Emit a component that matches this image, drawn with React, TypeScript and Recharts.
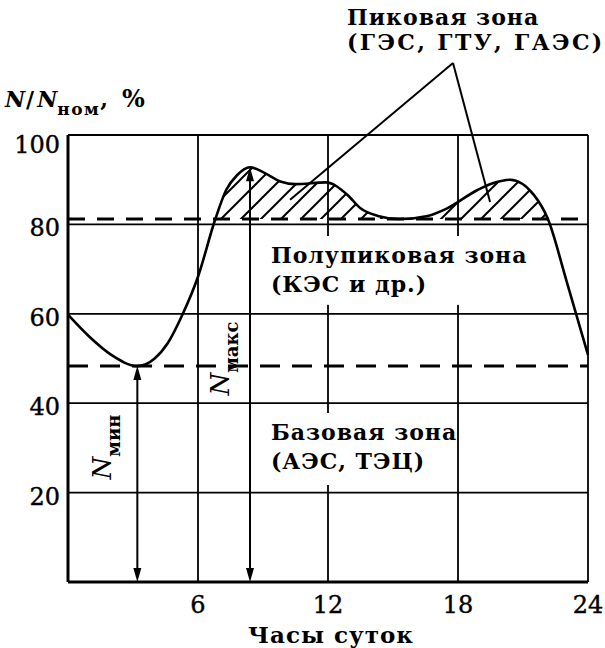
import React from 'react';
import {
  ComposedChart,
  Line,
  Area,
  XAxis,
  YAxis,
  CartesianGrid,
  ReferenceLine,
  ReferenceArea,
  ReferenceDot,
  Label,
} from 'recharts';

// daily load curve, N/Nном in % against hour of day
const hours = [0, 1, 2, 3.2, 4, 4.6, 5.3, 6, 6.8, 7.3, 7.8, 8.4, 9, 9.8, 10.5, 11.9, 12.9, 13.5, 14.3, 15.3, 16.6, 17.5, 18.9, 19.6, 20.4, 21.5, 22.15, 23, 24];
const load = [59.8, 54.8, 50.8, 48.3, 50.0, 53.4, 60, 68.3, 81.2, 87.7, 91.0, 92.8, 91.7, 89.6, 89.0, 89.4, 86.6, 83.6, 81.9, 81.2, 81.9, 83.6, 87.7, 89.2, 90.0, 86.6, 81.2, 67.5, 50.8];

const xTicks = [6, 12, 18, 24];
const yTicks = [20, 40, 60, 80, 100];

const semiPeakLevel = 81.2;
const baseLevel = Math.min(...load);
const minIdx = load.indexOf(baseLevel);
const maxIdx = load.indexOf(Math.max(...load));

const peakZone = ['Пиковая зона', '(ГЭС, ГТУ, ГАЭС)'];
const semiPeakZone = ['Полупиковая зона', '(КЭС и др.)'];
const baseZone = ['Базовая зона', '(АЭС, ТЭЦ)'];
const xTitle = 'Часы суток';

const data = hours.map((hour, i) => ({
  hour,
  load: load[i],
  peak: load[i] >= semiPeakLevel ? [semiPeakLevel, load[i]] : null,
}));

const FONT = '"DejaVu Serif", serif';
const INK = '#000';
const textStyle = { fontFamily: FONT, fontSize: 22, fontWeight: 700, letterSpacing: 1 };

function XTick({ x, y, payload }: any) {
  return (
    <text x={x} y={y + 31} textAnchor="middle" fontFamily={FONT} fontSize={24} fill={INK} stroke={INK} strokeWidth={0.4}>
      {payload.value}
    </text>
  );
}

function YTick({ x, y, payload }: any) {
  const dy = payload.value === 100 ? 18 : 12;
  return (
    <text x={x - 8} y={y + dy} textAnchor="end" fontFamily={FONT} fontSize={24} fill={INK} stroke={INK} strokeWidth={0.4}>
      {payload.value}
    </text>
  );
}

function YTitle({ viewBox }: any) {
  return (
    <text x={viewBox.x - 3} y={viewBox.y - 28} fontFamily={FONT} fontSize={22} fontWeight={700} fill={INK}>
      <tspan fontStyle="italic">N</tspan>
      <tspan dx={1}>/</tspan>
      <tspan dx={3} fontStyle="italic">N</tspan>
      <tspan fontSize={17} dy={8} letterSpacing={1.5}>ном</tspan>
      <tspan dy={-8}>,</tspan>
      <tspan dx={14} fontSize={24}>%</tspan>
    </text>
  );
}

function XTitle({ viewBox }: any) {
  return (
    <text
      x={viewBox.x + viewBox.width / 2 + 3}
      y={viewBox.y + 61}
      textAnchor="middle"
      style={{ ...textStyle, fontSize: 23 }}
      fill={INK}
    >
      {xTitle}
    </text>
  );
}

function ZoneBox({ x, y, width, height, lines }: any) {
  return (
    <g>
      <rect x={x} y={y} width={width} height={height} fill="#fff" />
      {lines.map((t: string, i: number) => (
        <text key={t} x={x + 9} y={y + 27 + i * 29} style={textStyle} fill={INK}>
          {t}
        </text>
      ))}
    </g>
  );
}

function PeakLabel({ cx, cy }: any) {
  return (
    <g>
      {peakZone.map((t, i) => (
        <text
          key={t}
          x={cx - 106}
          y={cy - 38 + i * 25}
          style={{ ...textStyle, letterSpacing: i === 0 ? 1 : 2.4 }}
          fill={INK}
        >
          {t}
        </text>
      ))}
    </g>
  );
}

function RotatedN({ cx, cy, sub }: any) {
  return (
    <text
      transform={`rotate(-90 ${cx} ${cy})`}
      x={cx}
      y={cy}
      textAnchor="middle"
      fontFamily={FONT}
      fill={INK}
    >
      <tspan fontStyle="italic" fontSize={26}>N</tspan>
      <tspan fontSize={18} fontWeight={700} dy={9}>{sub}</tspan>
    </text>
  );
}

function DoubleArrow({ x1, y1, y2 }: any) {
  const top = Math.min(y1, y2);
  const bottom = Math.max(y1, y2);
  const hw = 4;
  const hl = 14;
  return (
    <g>
      <line x1={x1} y1={top + 6} x2={x1} y2={bottom - 6} stroke={INK} strokeWidth={2} />
      <path d={`M${x1},${top} l${-hw},${hl} l${2 * hw},0 Z`} fill={INK} />
      <path d={`M${x1},${bottom} l${-hw},${-hl} l${2 * hw},0 Z`} fill={INK} />
    </g>
  );
}

export default function App() {
  return (
    <div style={{ position: 'absolute', left: 0, top: 0, background: '#fff' }}>
      <ComposedChart
        width={605}
        height={648}
        data={data}
        margin={{ top: 135, right: 17, bottom: 6, left: 8 }}
      >
        <defs>
          <pattern id="hatch" width="20" height="20" patternUnits="userSpaceOnUse">
            <path d="M-10,10 L10,-10 M0,20 L20,0 M10,30 L30,10" stroke={INK} strokeWidth={2} />
          </pattern>
        </defs>
        <CartesianGrid stroke={INK} strokeWidth={1.8} />
        <XAxis
          dataKey="hour"
          type="number"
          domain={[0, 24]}
          ticks={xTicks}
          height={60}
          axisLine={false}
          tickLine={false}
          tickSize={0}
          tickMargin={0}
          tick={<XTick />}
        >
          <Label content={<XTitle />} />
        </XAxis>
        <YAxis
          type="number"
          domain={[0, 100]}
          ticks={yTicks}
          width={60}
          axisLine={false}
          tickLine={false}
          tickSize={0}
          tickMargin={0}
          tick={<YTick />}
        >
          <Label content={<YTitle />} />
        </YAxis>
        <ReferenceLine x={0} stroke={INK} strokeWidth={3} />
        <ReferenceLine y={0} stroke={INK} strokeWidth={3} />

        <ReferenceArea
          x1={8.95}
          x2={21.55}
          y1={62}
          y2={77.4}
          shape={(p: any) => <ZoneBox {...p} lines={semiPeakZone} />}
        />
        <ReferenceArea
          x1={8.95}
          x2={17.72}
          y1={21.7}
          y2={37.8}
          shape={(p: any) => <ZoneBox {...p} lines={baseZone} />}
        />

        <Area
          dataKey="peak"
          type="monotone"
          stroke="none"
          fill="url(#hatch)"
          fillOpacity={1}
          dot={false}
          activeDot={false}
          isAnimationActive={false}
        />
        <ReferenceLine y={semiPeakLevel} stroke={INK} strokeWidth={3} strokeDasharray="17 12" />
        <ReferenceLine y={baseLevel} stroke={INK} strokeWidth={3} strokeDasharray="20 12" />

        <ReferenceLine
          segment={[{ x: hours[minIdx], y: 0 }, { x: hours[minIdx], y: baseLevel }]}
          shape={(p: any) => <DoubleArrow {...p} />}
        />
        <ReferenceLine
          segment={[{ x: hours[maxIdx], y: 0 }, { x: hours[maxIdx], y: load[maxIdx] }]}
          shape={(p: any) => <DoubleArrow {...p} />}
        />
        <ReferenceDot x={2.0} y={30.2} shape={(p: any) => <RotatedN {...p} sub="мин" />} />
        <ReferenceDot x={7.43} y={50} shape={(p: any) => <RotatedN {...p} sub="макс" />} />

        <ReferenceLine
          segment={[{ x: 17.77, y: 116.1 }, { x: 10.25, y: 85.5 }]}
          ifOverflow="visible"
          stroke={INK}
          strokeWidth={2}
        />
        <ReferenceLine
          segment={[{ x: 17.77, y: 116.1 }, { x: 19.48, y: 85.0 }]}
          ifOverflow="visible"
          stroke={INK}
          strokeWidth={2}
        />
        <ReferenceDot
          x={17.77}
          y={116.1}
          ifOverflow="visible"
          shape={(p: any) => <PeakLabel {...p} />}
        />

        <Line
          dataKey="load"
          type="monotone"
          stroke={INK}
          strokeWidth={2.6}
          dot={false}
          activeDot={false}
          isAnimationActive={false}
        />
      </ComposedChart>
    </div>
  );
}
